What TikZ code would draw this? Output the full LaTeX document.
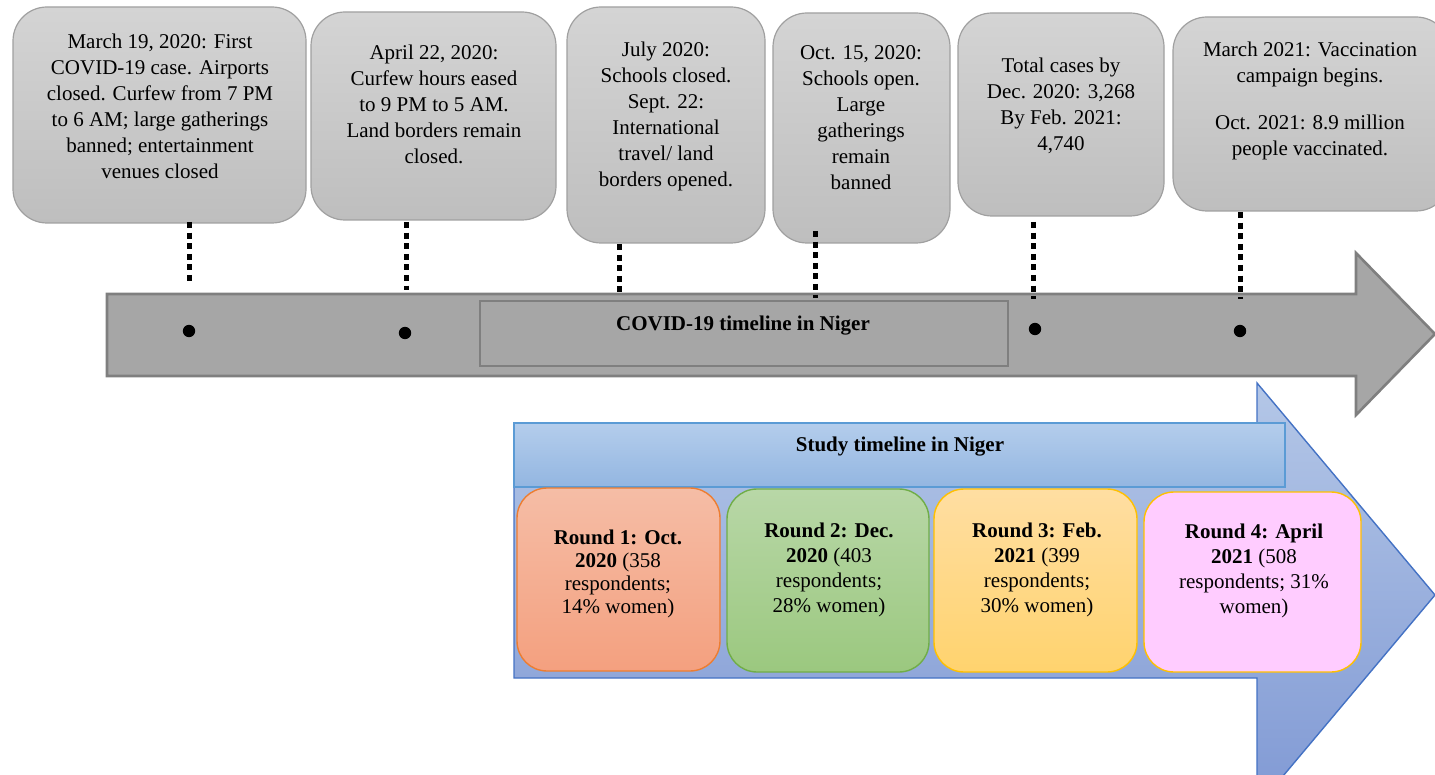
\documentclass[tikz,border=0pt]{standalone}
\usepackage{fontspec}
\setmainfont{Liberation Serif}
\usetikzlibrary{fit}
\definecolor{boxtop}{HTML}{D4D4D4}
\definecolor{boxbot}{HTML}{BEBEBE}
\definecolor{boxline}{HTML}{A0A0A0}
\definecolor{arrowfill}{HTML}{A6A6A6}
\definecolor{arrowline}{HTML}{7F7F7F}
\definecolor{bluetop}{HTML}{B4C7E7}
\definecolor{bluebot}{HTML}{8099D4}
\definecolor{blueline}{HTML}{4472C4}
\definecolor{bartop}{HTML}{B4CDEC}
\definecolor{barbot}{HTML}{93B6E1}
\definecolor{barline}{HTML}{5B9BD5}
\definecolor{ra}{HTML}{F5BDA6}
\definecolor{rab}{HTML}{F4A07F}
\definecolor{ral}{HTML}{ED7D31}
\definecolor{rb}{HTML}{B8D7A7}
\definecolor{rbb}{HTML}{9BC87F}
\definecolor{rbl}{HTML}{70AD47}
\definecolor{rc}{HTML}{FFDEA2}
\definecolor{rcb}{HTML}{FFD36E}
\definecolor{rcl}{HTML}{FFC000}
\definecolor{rd}{HTML}{FFCCFF}
\definecolor{rdl}{HTML}{FFC000}
\begin{document}
\begin{tikzpicture}[x=0.5pt,y=-0.5pt,
  graybox/.style={draw=boxline, line width=0.6pt, rounded corners=17pt, top color=boxtop, bottom color=boxbot, inner sep=0pt},
  roundbox/.style={line width=0.7pt, rounded corners=15pt, inner sep=0pt},
  boxtext/.style={align=center, inner sep=0pt, font=\fontsize{10.5}{13}\selectfont},
  roundtext/.style={align=center, inner sep=0pt, font=\fontsize{10.5}{12.5}\selectfont},
  titletext/.style={inner sep=0pt, font=\fontsize{10.5}{13}\selectfont\bfseries},
  dotline/.style={line width=2.5pt, dash pattern=on 3pt off 2.3pt},
  tdot/.style={circle, fill=black, inner sep=0pt, minimum size=6.2pt}
]
\useasboundingbox (0,0) rectangle (1435,775);

% ---- gray COVID arrow ----
\draw[fill=arrowfill, draw=arrowline, line width=1.3pt]
  (107,294) -- (1356,294) -- (1356,253) -- (1435,334) -- (1356,415) -- (1356,376) -- (107,376) -- cycle;
\node[draw=arrowline, fill=arrowfill, line width=1.3pt, inner sep=0pt, fit={(480,301) (1008,366)}] (covidbox) {};
\node[titletext] (covidtitle) at (743,326) {COVID-19 timeline in Niger};

% ---- dots ----
\node[tdot] (d1) at (189,331) {};
\node[tdot] (d2) at (405,333) {};
\node[tdot] (d5) at (1035,329) {};
\node[tdot] (d6) at (1240,331) {};

% ---- gray event boxes ----
\node[graybox, fit={(13,7) (306,223)}] (b1) {};
\node[graybox, fit={(311,12) (556,220)}] (b2) {};
\node[graybox, fit={(567,7) (765,243)}] (b3) {};
\node[graybox, fit={(773,13) (950,243)}] (b4) {};
\node[graybox, fit={(958,13) (1164,216)}] (b5) {};
\node[graybox, fit={(1173,17) (1450,211)}] (b6) {};

\node[boxtext, anchor=north] (t1) at (160,34) {March 19, 2020: First\\COVID-19 case. Airports\\closed. Curfew from 7 PM\\to 6 AM; large gatherings\\banned; entertainment\\venues closed};
\node[boxtext, anchor=north] (t2) at (434,45) {April 22, 2020:\\Curfew hours eased\\to 9 PM to 5 AM.\\Land borders remain\\closed.};
\node[boxtext, anchor=north] (t3) at (666,42) {July 2020:\\Schools closed.\\Sept. 22:\\International\\travel/ land\\borders opened.};
\node[boxtext, anchor=north] (t4) at (861,45) {Oct. 15, 2020:\\Schools open.\\Large\\gatherings\\remain\\banned};
\node[boxtext, anchor=north] (t5) at (1061,58) {Total cases by\\Dec. 2020: 3,268\\By Feb. 2021:\\4,740};
\node[boxtext, anchor=north] (t6) at (1310,42) {March 2021: Vaccination\\campaign begins.\\[10.5pt]Oct. 2021: 8.9 million\\people vaccinated.};

% ---- dotted connectors ----
\coordinate (c1a) at (189,222); \coordinate (c1b) at (189,285);
\coordinate (c2a) at (406,222); \coordinate (c2b) at (406,290);
\coordinate (c3a) at (619,244); \coordinate (c3b) at (619,294);
\coordinate (c4a) at (815,231); \coordinate (c4b) at (815,298);
\coordinate (c5a) at (1033,222); \coordinate (c5b) at (1033,299);
\coordinate (c6a) at (1240,212); \coordinate (c6b) at (1240,299);
\draw[dotline] (c1a) -- (c1b);
\draw[dotline] (c2a) -- (c2b);
\draw[dotline] (c3a) -- (c3b);
\draw[dotline] (c4a) -- (c4b);
\draw[dotline] (c5a) -- (c5b);
\draw[dotline] (c6a) -- (c6b);

% ---- blue study arrow ----
\begin{scope}
\clip (0,0) rectangle (1435,775);
\draw[top color=bluetop, bottom color=bluebot, draw=blueline, line width=0.7pt]
  (514,423) -- (1257,423) -- (1257,383) -- (1435,595) -- (1257,807) -- (1257,678) -- (514,678) -- cycle;
\end{scope}
\node[draw=barline, line width=0.7pt, top color=bartop, bottom color=barbot, inner sep=0pt, fit={(514,423) (1285,487)}] (studybar) {};
\node[titletext] (studytitle) at (900,447) {Study timeline in Niger};

% ---- round boxes ----
\node[roundbox, draw=ral, top color=ra, bottom color=rab, fit={(517,488) (720,671)}] (r1) {};
\node[roundbox, draw=rbl, top color=rb, bottom color=rbb, fit={(727,489) (929,672)}] (r2) {};
\node[roundbox, draw=rcl, top color=rc, bottom color=rcb, fit={(934,489) (1137,672)}] (r3) {};
\node[roundbox, draw=rdl, fill=rd, fit={(1144,492) (1361,672)}] (r4) {};

\node[roundtext, anchor=north, font=\fontsize{10.5}{11.5}\selectfont] (rt1) at (618,530) {\textbf{Round 1: Oct.}\\\textbf{2020} (358\\respondents;\\14\% women)};
\node[roundtext, anchor=north] (rt2) at (829,523) {\textbf{Round 2: Dec.}\\\textbf{2020} (403\\respondents;\\28\% women)};
\node[roundtext, anchor=north] (rt3) at (1037,523) {\textbf{Round 3: Feb.}\\\textbf{2021} (399\\respondents;\\30\% women)};
\node[roundtext, anchor=north] (rt4) at (1254,524) {\textbf{Round 4: April}\\\textbf{2021} (508\\respondents; 31\%\\women)};
\end{tikzpicture}
\end{document}
